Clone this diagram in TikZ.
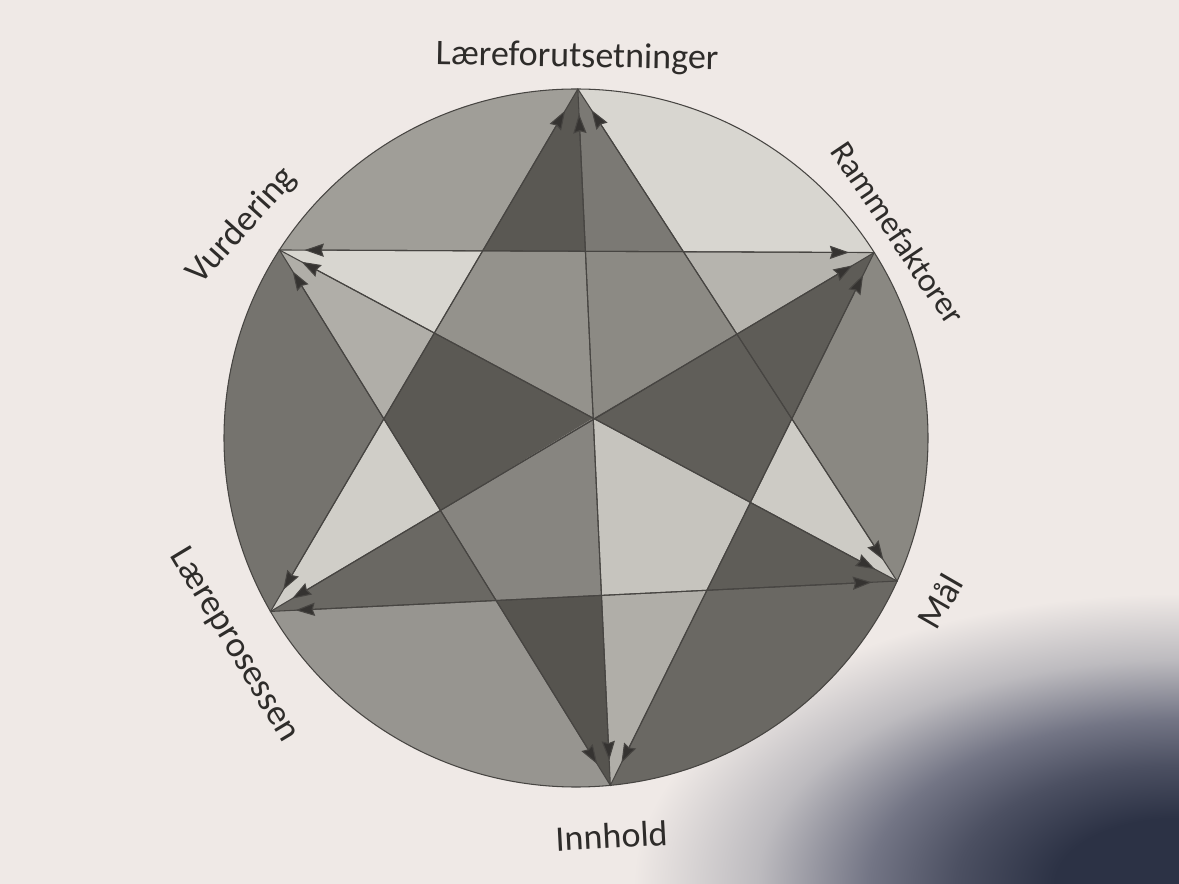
\documentclass[tikz,border=0pt]{standalone}
\usepackage{fontspec}
\setmainfont{Carlito}
\usetikzlibrary{calc,arrows.meta}

\definecolor{paper}{HTML}{EFE9E6}
\definecolor{shadow}{HTML}{2C3245}
\definecolor{shadowa}{HTML}{4C5062}
\definecolor{shadowb}{HTML}{737585}
\definecolor{shadowc}{HTML}{BDBBBF}
\definecolor{ink}{HTML}{2E2C2A}
\definecolor{edge}{HTML}{474542}
\definecolor{head}{HTML}{353331}
\definecolor{oa}{HTML}{D8D6D0}
\definecolor{ob}{HTML}{8A8882}
\definecolor{oc}{HTML}{6A6863}
\definecolor{od}{HTML}{979590}
\definecolor{oe}{HTML}{75736E}
\definecolor{of}{HTML}{A09E98}
\pgfdeclareradialshading{fall}{\pgfpoint{0bp}{0bp}}{color(0bp)=(shadow); color(5bp)=(shadow); color(9bp)=(shadowa); color(12.5bp)=(shadowb); color(17bp)=(shadowc); color(22bp)=(paper); color(50bp)=(paper)}

\begin{document}
\begin{tikzpicture}[x=0.02cm,y=-0.02cm,
  line/.style={draw=edge,line width=0.6pt},
  tips/.style={draw=edge,line width=0.6pt,
    {Stealth[length=11pt,width=7.5pt,inset=1.2pt,fill=head]}-{Stealth[length=11pt,width=7.5pt,inset=1.2pt,fill=head]},
    shorten <=0.5cm,shorten >=0.5cm},
  lbl/.style={text=ink,inner sep=0pt,font=\fontsize{20.5}{24}\selectfont}]
\useasboundingbox (0,0) rectangle (1179,884);
\fill[paper] (0,0) rectangle (1179,884);
\begin{scope}
\clip (0,0) rectangle (1179,884);
\shade[shading=fall] (1179,884) ellipse (620 and 330);
\end{scope}

\coordinate (o) at (576,438);
\path (o) ++(-89.7:352 and 349) coordinate (p1);
\path (o) ++(-32.1:352 and 349) coordinate (p2);
\path (o) ++(24.2:352 and 349) coordinate (p3);
\path (o) ++(84.4:352 and 349) coordinate (p4);
\path (o) ++(150.2:352 and 349) coordinate (p5);
\path (o) ++(212.6:352 and 349) coordinate (p6);

\coordinate (c) at (intersection of p1--p4 and p6--p3);
\coordinate (i61) at (intersection of p1--p5 and p6--p2);
\coordinate (i12) at (intersection of p1--p3 and p6--p2);
\coordinate (i23) at (intersection of p1--p3 and p2--p4);
\coordinate (i34) at (intersection of p3--p5 and p2--p4);
\coordinate (i45) at (intersection of p3--p5 and p4--p6);
\coordinate (i56) at (intersection of p1--p5 and p4--p6);
\coordinate (m1) at (intersection of p1--p4 and p6--p2);
\coordinate (m2) at (intersection of p2--p5 and p1--p3);
\coordinate (m3) at (intersection of p3--p6 and p2--p4);
\coordinate (m4) at (intersection of p1--p4 and p3--p5);
\coordinate (m5) at (intersection of p2--p5 and p4--p6);
\coordinate (m6) at (intersection of p3--p6 and p1--p5);

\begin{scope}
\clip (o) ellipse (352 and 349);
\fill[oa] (p1) -- (i12) -- (p2) -- ($(o)!2!(p2)$) -- ($(o)!2!(p1)$) -- cycle;
\fill[ob] (p2) -- (i23) -- (p3) -- ($(o)!2!(p3)$) -- ($(o)!2!(p2)$) -- cycle;
\fill[oc] (p3) -- (i34) -- (p4) -- ($(o)!2!(p4)$) -- ($(o)!2!(p3)$) -- cycle;
\fill[od] (p4) -- (i45) -- (p5) -- ($(o)!2!(p5)$) -- ($(o)!2!(p4)$) -- cycle;
\fill[oe] (p5) -- (i56) -- (p6) -- ($(o)!2!(p6)$) -- ($(o)!2!(p5)$) -- cycle;
\fill[of] (p6) -- (i61) -- (p1) -- ($(o)!2!(p1)$) -- ($(o)!2!(p6)$) -- cycle;
\end{scope}

\fill[fill={rgb,255:red,90;green,88;blue,83}] (p1) -- (i61) -- (m1) -- cycle;
\fill[fill={rgb,255:red,123;green,121;blue,116}] (p1) -- (m1) -- (i12) -- cycle;
\fill[fill={rgb,255:red,182;green,180;blue,174}] (p2) -- (i12) -- (m2) -- cycle;
\fill[fill={rgb,255:red,94;green,92;blue,87}] (p2) -- (m2) -- (i23) -- cycle;
\fill[fill={rgb,255:red,205;green,203;blue,197}] (p3) -- (i23) -- (m3) -- cycle;
\fill[fill={rgb,255:red,95;green,93;blue,88}] (p3) -- (m3) -- (i34) -- cycle;
\fill[fill={rgb,255:red,176;green,174;blue,168}] (p4) -- (i34) -- (m4) -- cycle;
\fill[fill={rgb,255:red,86;green,84;blue,79}] (p4) -- (m4) -- (i45) -- cycle;
\fill[fill={rgb,255:red,106;green,104;blue,99}] (p5) -- (i45) -- (m5) -- cycle;
\fill[fill={rgb,255:red,208;green,206;blue,200}] (p5) -- (m5) -- (i56) -- cycle;
\fill[fill={rgb,255:red,176;green,174;blue,168}] (p6) -- (i56) -- (m6) -- cycle;
\fill[fill={rgb,255:red,216;green,214;blue,208}] (p6) -- (m6) -- (i61) -- cycle;

\fill[fill={rgb,255:red,140;green,138;blue,132}] (c) -- (m1) -- (i12) -- (m2) -- cycle;
\fill[fill={rgb,255:red,96;green,94;blue,89}] (c) -- (m2) -- (i23) -- (m3) -- cycle;
\fill[fill={rgb,255:red,198;green,196;blue,190}] (c) -- (m3) -- (i34) -- (m4) -- cycle;
\fill[fill={rgb,255:red,135;green,133;blue,128}] (c) -- (m4) -- (i45) -- (m5) -- cycle;
\fill[fill={rgb,255:red,91;green,89;blue,84}] (c) -- (m5) -- (i56) -- (m6) -- cycle;
\fill[fill={rgb,255:red,148;green,146;blue,140}] (c) -- (m6) -- (i61) -- (m1) -- cycle;

\draw[line] (o) ellipse (352 and 349);
\draw[line] (p1) -- (p3) -- (p5) -- cycle;
\draw[line] (p2) -- (p4) -- (p6) -- cycle;
\draw[line] (p1) -- (p4) (p2) -- (p5) (p3) -- (p6);

\draw[tips] (p1) -- (p3);
\draw[tips] (p3) -- (p5);
\draw[tips] (p5) -- (p1);
\draw[tips] (p2) -- (p4);
\draw[tips] (p4) -- (p6);
\draw[tips] (p6) -- (p2);
\draw[tips] (p1) -- (p4);
\draw[tips] (p2) -- (p5);
\draw[tips] (p3) -- (p6);

\node[lbl,anchor=base,rotate=-1] (l1) at (577,67) {Læreforutsetninger};
\node[lbl,rotate=-56,font=\fontsize{19}{22}\selectfont] (l2) at (898,233) {Rammefaktorer};
\node[lbl,rotate=60] (l3) at (940,601) {Mål};
\node[lbl,rotate=3] (l4) at (612,836) {Innhold};
\node[lbl,rotate=-59] (l5) at (234,645) {Læreprosessen};
\node[lbl,rotate=48] (l6) at (242,226) {Vurdering};
\end{tikzpicture}
\end{document}
